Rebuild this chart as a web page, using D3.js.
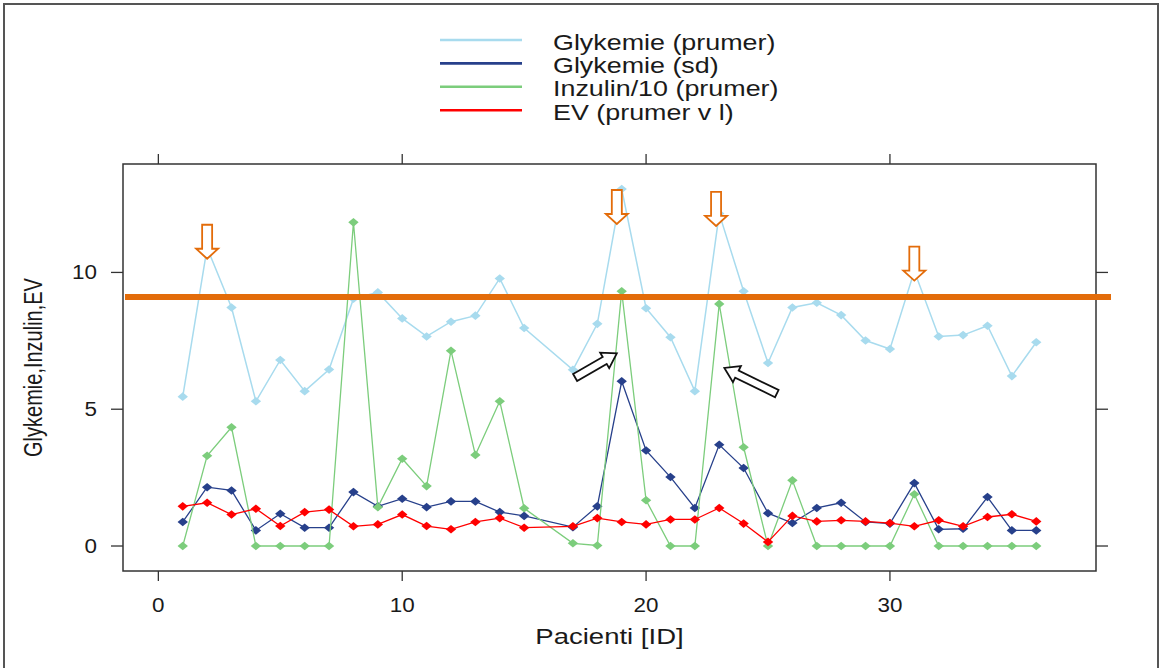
<!DOCTYPE html>
<html><head><meta charset="utf-8">
<script src="https://cdn.jsdelivr.net/npm/d3@7"></script>
<style>body{margin:0;background:#fff}svg{display:block}text{font-family:"Liberation Sans",Arial,sans-serif;fill:#1a1a1a}</style>
</head><body>
<svg id="c" width="1162" height="668"></svg>
<script>
// Patient IDs (patient 16 missing in data)
const patients = [1,2,3,4,5,6,7,8,9,10,11,12,13,14,15,17,18,19,20,21,22,23,24,25,26,27,28,29,30,31,32,33,34,35,36];
const glyMean = [5.46,10.9,8.72,5.29,6.80,5.66,6.45,9.04,9.27,8.32,7.66,8.20,8.42,9.78,7.97,
                 6.44,8.12,13.05,8.69,7.63,5.66,12.15,9.31,6.69,8.72,8.89,8.44,7.51,7.20,10.05,7.66,7.71,8.05,6.21,7.45];
const glySd   = [0.88,2.15,2.03,0.57,1.18,0.67,0.67,1.97,1.45,1.73,1.42,1.63,1.63,1.24,1.10,
                 0.69,1.45,6.02,3.49,2.52,1.39,3.70,2.85,1.20,0.84,1.39,1.58,0.88,0.82,2.30,0.61,0.63,1.79,0.57,0.57];
const inzMean = [0,3.30,4.34,0,0,0,0,11.83,1.42,3.19,2.19,7.14,3.33,5.29,1.38,
                 0.10,0.02,9.31,1.67,0,0,8.85,3.61,0,2.40,0,0,0,0,1.89,0,0,0,0,0];
const evMean  = [1.45,1.58,1.15,1.36,0.73,1.24,1.33,0.72,0.79,1.15,0.73,0.61,0.88,1.02,0.67,
                 0.72,1.02,0.88,0.79,0.97,0.97,1.39,0.82,0.15,1.10,0.90,0.94,0.90,0.84,0.72,0.94,0.72,1.06,1.16,0.90];
const seriesNames  = ["Glykemie (prumer)","Glykemie (sd)","Inzulin/10 (prumer)","EV (prumer v l)"];
const seriesColors = ["#A8DBEE","#27408B","#7CCD7C","#FF0000"];
const xTicks = [0,10,20,30];
const yTicks = [0,5,10];
const xTitle = "Pacienti [ID]";
const yTitle = "Glykemie,Inzulin,EV";
// annotations
const threshold = 9.1;
const downArrows = [{x:2,tip:10.5},{x:18.8,tip:11.77},{x:22.87,tip:11.7},{x:31,tip:9.7}];
const diagArrows = [{x0:17.09,y0:6.16,x1:18.8,y1:7.04},{x0:25.36,y0:5.57,x1:23.21,y1:6.51}];

const series = [glyMean, glySd, inzMean, evMean];
const svg = d3.select("#c");
const L=123,R=1096,T=164,B=571;
const pad = (e)=>{const r=e[1]-e[0]; return [e[0]-0.07*r, e[1]+0.07*r];};
const x = d3.scaleLinear().domain(pad(d3.extent(patients))).range([L,R]);
const allY = series.flat();
const y = d3.scaleLinear().domain(pad(d3.extent(allY))).range([B,T]);

// outer frame
svg.append("rect").attr("x",4).attr("y",4).attr("width",1154).attr("height",700)
  .attr("fill","none").attr("stroke","#555").attr("stroke-width",2);

// legend
const lg = svg.append("g");
seriesNames.forEach((n,i)=>{
  const ly = 40 + i*23.4;
  lg.append("line").attr("x1",440).attr("x2",522).attr("y1",ly).attr("y2",ly)
    .attr("stroke",seriesColors[i]).attr("stroke-width",2.6);
  lg.append("text").attr("transform",`translate(553,${ly+2}) scale(1.25,1)`)
    .attr("dominant-baseline","central").attr("font-size",21.5).text(n);
});

// axes ticks
const ax = svg.append("g").attr("stroke","#333").attr("stroke-width",1.3);
xTicks.forEach(t=>{
  ax.append("line").attr("x1",x(t)).attr("x2",x(t)).attr("y1",B).attr("y2",B+10);
  ax.append("line").attr("x1",x(t)).attr("x2",x(t)).attr("y1",T).attr("y2",T-10);
  svg.append("text").attr("transform",`translate(${x(t)},${605}) scale(1.15,1)`)
    .attr("text-anchor","middle").attr("dominant-baseline","central").attr("font-size",19.5).text(t);
});
yTicks.forEach(t=>{
  ax.append("line").attr("x1",L).attr("x2",L-12).attr("y1",y(t)).attr("y2",y(t));
  ax.append("line").attr("x1",R).attr("x2",R+12).attr("y1",y(t)).attr("y2",y(t));
  svg.append("text").attr("transform",`translate(${97},${y(t)}) scale(1.15,1)`)
    .attr("text-anchor","end").attr("dominant-baseline","central").attr("font-size",19.5).text(t);
});
svg.append("text").attr("transform",`translate(${(L+R)/2},${637}) scale(1.28,1)`)
  .attr("text-anchor","middle").attr("dominant-baseline","central").attr("font-size",21.5).text(xTitle);
svg.append("text").attr("transform",`translate(33,${(T+B)/2}) scale(1.3,1) rotate(-90)`)
  .attr("text-anchor","middle").attr("dominant-baseline","central").attr("font-size",20).text(yTitle);

// series
const diamond = "M0,-4.3L5.2,0L0,4.3L-5.2,0Z";
series.forEach((vals,si)=>{
  const pts = patients.map((p,i)=>[p,vals[i]]);
  const line = d3.line().x(d=>x(d[0])).y(d=>y(d[1]));
  svg.append("path").attr("d",line(pts)).attr("fill","none")
    .attr("stroke",seriesColors[si]).attr("stroke-width",si===0?1.5:1.3);
  svg.append("g").selectAll("path").data(pts).join("path")
    .attr("d",diamond).attr("transform",d=>`translate(${x(d[0])},${y(d[1])})`)
    .attr("fill",seriesColors[si]);
});

// plot box
svg.append("rect").attr("x",L).attr("y",T).attr("width",R-L).attr("height",B-T)
  .attr("fill","none").attr("stroke","#333").attr("stroke-width",1.5);

// threshold line
svg.append("line").attr("x1",L+2).attr("x2",R+15).attr("y1",y(threshold)).attr("y2",y(threshold))
  .attr("stroke","#E36C0A").attr("stroke-width",6);

// down arrows
downArrows.forEach(a=>{
  const cx=x(a.x), ty=y(a.tip);
  const p=[[cx-5,ty-34],[cx+5,ty-34],[cx+5,ty-10],[cx+11,ty-10],[cx,ty],[cx-11,ty-10],[cx-5,ty-10]];
  svg.append("path").attr("d","M"+p.join("L")+"Z").attr("fill","#fff")
    .attr("stroke","#E36C0A").attr("stroke-width",1.8);
});
// diagonal arrows
diagArrows.forEach(a=>{
  const X0=x(a.x0),Y0=y(a.y0),X1=x(a.x1),Y1=y(a.y1);
  const Lh=Math.hypot(X1-X0,Y1-Y0), ang=Math.atan2(Y1-Y0,X1-X0)*180/Math.PI;
  const p=[[0,-4],[Lh-14,-4],[Lh-14,-9],[Lh,0],[Lh-14,9],[Lh-14,4],[0,4]];
  svg.append("path").attr("d","M"+p.join("L")+"Z").attr("transform",`translate(${X0},${Y0}) rotate(${ang})`)
    .attr("fill","#fff").attr("stroke","#111").attr("stroke-width",1.8);
});
</script>
</body></html>
